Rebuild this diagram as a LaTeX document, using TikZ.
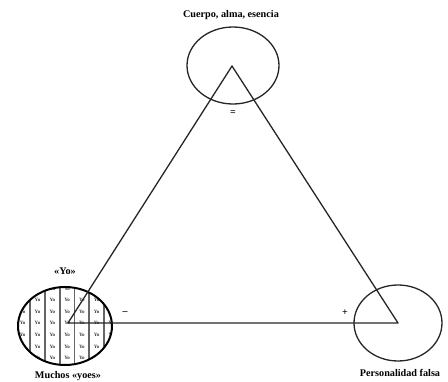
\documentclass[tikz,border=0pt]{standalone}
\usepackage{fontspec}
\setmainfont{Liberation Serif}
\tikzset{
  rasgo/.style={line width=1.3pt, black!85},
  etiq/.style={font=\fontsize{10.2}{11}\selectfont\bfseries, inner sep=1pt},
  signo/.style={font=\fontsize{10}{11}\selectfont\bfseries, inner sep=0pt},
  yo/.style={font=\fontsize{5}{5}\selectfont\bfseries, inner sep=0pt, black!80}
}
\begin{document}
\begin{tikzpicture}[x=1pt, y=-1pt, line join=round, line cap=round]
  \useasboundingbox (0,0) rectangle (448,382);
  % vertices
  \coordinate (C) at (232,66);
  \coordinate (Y) at (68,323);
  \coordinate (P) at (398,323);
  % muchos yoes
  \begin{scope}
    \clip (65,326) ellipse [x radius=47pt, y radius=39pt];
    \foreach \j in {-1,...,5}
      \foreach \i in {-1,...,5}
        \node[yo] (yo-\i-\j) at (37.5+14.8*\i, 300+11.6*\j) {Yo};
    \foreach \i in {0,...,5}
      \draw[black!60, line width=1.8pt] (30+14.8*\i, 280) -- ++(0,100);
  \end{scope}
  \draw[line width=2pt] (65,326) ellipse [x radius=47pt, y radius=39pt];
  % circulos
  \draw[rasgo] (233,65.5) ellipse [x radius=46pt, y radius=38.5pt];
  \draw[rasgo] (398,323) ellipse [x radius=44pt, y radius=38pt];
  % triangulo
  \draw[rasgo] (C) -- (P) -- (Y) -- cycle;
  % textos
  \node[etiq] (cuerpo) at (231,15) {Cuerpo, alma, esencia};
  \node[etiq] (yo) at (65,271) {«Yo»};
  \node[etiq] (muchos) at (68,376) {Muchos «yoes»};
  \node[etiq] (falsa) at (400,373) {Personalidad falsa};
  \node[signo] (igual) at (233,113) {=};
  \node[signo] (menos) at (125,313) {--};
  \node[signo] (mas) at (345,313) {+};
\end{tikzpicture}
\end{document}
